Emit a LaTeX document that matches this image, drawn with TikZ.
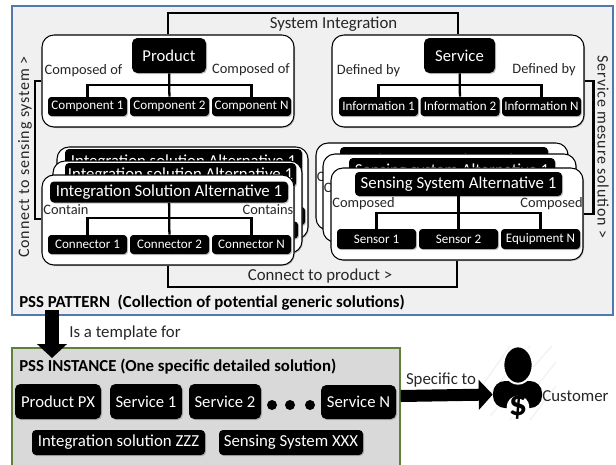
\documentclass[tikz,border=0pt]{standalone}
\usepackage{fontspec}
\setmainfont{Carlito}
\newfontfamily\widefont[LetterSpace=5]{Carlito}
\usetikzlibrary{arrows.meta}
\usetikzlibrary{shadows}
\usetikzlibrary{shapes.geometric}
\usetikzlibrary{positioning}

\begin{document}
\begin{tikzpicture}
    [
    x=0.75pt,y=-0.75pt,
    box/.style 2 args={minimum width=#1*0.75pt,minimum height=#2*0.75pt,inner sep=0pt},
    softshadow/.style={drop shadow={opacity=0.45,shadow xshift=0.8pt,shadow yshift=-0.8pt}},
    card/.style={draw=black,fill=white,line width=0.8pt,rounded corners=9pt,softshadow},
    head/.style={fill=black,text=white,rounded corners=4pt,softshadow,font=\fontsize{12.5}{15}\selectfont},
    part/.style={fill=black,text=white,rounded corners=2.5pt,softshadow,font=\fontsize{9.8}{12}\selectfont},
    wide/.style={fill=black,text=white,rounded corners=3pt,softshadow,font=\fontsize{12.6}{15}\selectfont},
    tag/.style={inner sep=0pt,text=black!85,font=\fontsize{10.8}{12}\selectfont},
    note/.style={inner sep=0pt,text=black!85,font=\fontsize{12.6}{14}\selectfont},
    side/.style={inner sep=0pt,text=black!85,font=\widefont\fontsize{12}{14}\selectfont},
    bold/.style={inner sep=0pt,text=black,font=\bfseries\fontsize{12.6}{14}\selectfont},
    link/.style={line width=1.7pt},
    fat/.style={line width=#1,-{Triangle[length=10.5pt,width=22pt]}}
    ]
    \useasboundingbox (0,0) rectangle (616,464);
    \clip (0,0) rectangle (616,464);

    % outer frames
    \node (pattern) at (312.5,160.5) [box={601}{309},draw={rgb,255:red,79;green,123;blue,172},line width=1pt,fill=black!6] {};
    \node (instance) at (206,410) [box={388}{124},draw={rgb,255:red,95;green,127;blue,58},line width=1pt,fill=black!15] {};

    % product
    \node (productcard) at (168,81) [box={252}{92},card] {};
    \node (product) at (169,55.5) [box={74}{35},head] {Product};
    \node (comp1) at (87.5,106.5) [box={79}{19},part] {Component 1};
    \node (comp2) at (169.5,106.5) [box={79}{19},part] {Component 2};
    \node (comp3) at (251.5,106.5) [box={79}{19},part] {Component N};
    \coordinate (busp) at (169.5,85);
    \draw [link] (product) to (comp2);
    \draw [link] (comp1) |- (busp) -| (comp3);
    \node (compof1) at (83.5,71) [tag] {Composed of};
    \node (compof2) at (251,70) [tag] {Composed of};

    % service
    \node (servicecard) at (458,81) [box={252}{92},card] {};
    \node (service) at (459.5,55.5) [box={71}{35},head] {Service};
    \node (info1) at (378.5,106.5) [box={79}{19},part] {Information 1};
    \node (info2) at (460,106.5) [box={79}{19},part] {Information 2};
    \node (info3) at (541.5,106.5) [box={79}{19},part] {Information N};
    \coordinate (buss) at (460,85);
    \draw [link] (service) to (info2);
    \draw [link] (info1) |- (buss) -| (info3);
    \node (defby1) at (368.5,71) [tag] {Defined by};
    \node (defby2) at (544,70) [tag] {Defined by};

    % integration stack
    \node (intcardc) at (182.5,193) [box={251}{92},card] {};
    \node (intheadc) at (183.5,162) [box={237}{26},wide] {Integration solution Alternative 1};
    \node (intbitc) at (280,216) [box={50}{18},part] {};
    \node (intcardb) at (177.5,207) [box={249}{92},card] {};
    \node (intheadb) at (180.5,175) [box={231}{24},wide] {Integration solution Alternative 1};
    \node (intbitb) at (273,230) [box={50}{17},part] {};
    \node (intcard) at (168,220) [box={252}{90},card] {};
    \node (inthead) at (169,192) [box={238}{21},wide] {Integration Solution Alternative 1};
    \node (conn1) at (87.5,244.5) [box={79}{19},part] {Connector 1};
    \node (conn2) at (169.5,244.5) [box={79}{19},part] {Connector 2};
    \node (conn3) at (251.5,244.5) [box={79}{19},part] {Connector N};
    \coordinate (busi) at (169.5,218);
    \draw [link] (inthead) to (conn2);
    \draw [link] (conn1) |- (busi) -| (conn3);
    \node (contain1) at (66,210) [tag] {Contain};
    \node (contain2) at (268,210) [tag] {Contains};

    % sensing stack
    \node (sencardc) at (442,186.5) [box={252}{87},card] {};
    \node (senheadc) at (444,161) [box={208}{28},wide] {Sensing system Alternative 1};
    \node (composedc) at (348,178) [tag] {Composed};
    \node (sencardb) at (449.5,198) [box={253}{88},card] {};
    \node (senheadb) at (452,171) [box={206}{26},wide] {Sensing system Alternative 1};
    \node (composedb) at (355,189) [tag] {Composed};
    \node (sencard) at (457,214) [box={252}{92},card] {};
    \node (senhead) at (458.5,184) [box={207}{24},wide] {Sensing System Alternative 1};
    \node (sensor1) at (376.5,239) [box={79}{20},part] {Sensor 1};
    \node (sensor2) at (458.5,239) [box={79}{20},part] {Sensor 2};
    \node (equip) at (540.5,239) [box={79}{20},part] {Equipment N};
    \coordinate (busn) at (458.5,213);
    \draw [link] (senhead) to (sensor2);
    \draw [link] (sensor1) |- (busn) -| (equip);
    \node (composed1) at (363.5,204) [tag] {Composed};
    \node (composed2) at (551.5,204) [tag] {Composed};

    % connections between the cards
    \coordinate (sysleft) at (168,13);
    \coordinate (connleft) at (35,81);
    \coordinate (connright) at (593.5,81);
    \coordinate (prodlow) at (168,287);
    \draw [link] (productcard.north) to (sysleft) -| (servicecard.north);
    \draw [link] (productcard.west |- connleft) -| (35,219) -- (intcard.west |- 0,219);
    \draw [link] (servicecard.east |- connright) -| (593.5,214) -- (sencard.east |- 0,214);
    \draw [link] (intcard.south -| prodlow) to (prodlow) -| (sencard.south);

    \node (sysint) at (333.5,24) [note] {System Integration};
    \node (connprod) at (320,276) [note] {Connect to product >};
    \node (connsens) at (25,157) [side,rotate=90] {Connect to sensing system >};
    \node (svcsol) at (603,147) [side,rotate=-90] {Service mesure solution >};
    \node (patterntitle) at (19,303) [bold,anchor=west] {PSS PATTERN\ \ (Collection of potential generic solutions)};

    % instance
    \node (template) at (125,333) [note] {Is a template for};
    \coordinate (patfoot) at (52,310);
    \coordinate (instop) at (52,358);
    \draw [fat=11pt] (patfoot) to (instop);
    \node (instancetitle) at (19,367) [bold,anchor=west] {PSS INSTANCE (One specific detailed solution)};
    \node (px) at (58,401.5) [box={86}{35},head] {Product PX};
    \node (s1) at (146,401.5) [box={72}{35},head] {Service 1};
    \node (s2) at (225,401.5) [box={72}{35},head] {Service 2};
    \node (sn) at (358.5,402) [box={75}{34},head] {Service N};
    \foreach \nm/\xx in {d1/272,d2/290,d3/310}
      \node (\nm) at (\xx,405) [circle,fill=black,minimum size=7.5pt,inner sep=0pt] {};
    \node (intzzz) at (118.5,442.5) [box={173}{25},wide] {Integration solution ZZZ};
    \node (senxxx) at (291,442.5) [box={144}{25},wide] {Sensing System XXX};

    % customer
    \foreach \xa/\ya/\xb/\yb in {482/386/510/346,482/404/530/346,490/416/552/346,510/420/556/362,530/420/556/386}
      \draw [black!5,line width=1pt] (\xa,\ya) to (\xb,\yb);
    \node (body) at (517.5,394.5) [box={49}{27},fill=black,rounded corners=9pt] {};
    \node (cuthead) at (518,365) [ellipse,fill=black,draw=white,line width=1.5pt,minimum width=22pt,minimum height=28pt,inner sep=0pt] {};
    \node (cutdollar) at (518,407) [circle,fill=white,minimum size=17pt,inner sep=0pt] {};
    \node (dollar) at (518,406) [inner sep=0pt,font=\bfseries\fontsize{27}{27}\selectfont] {\$};
    \draw [fat=9pt] (instance.east |- 0,396) to (body.west);
    \node (specific) at (441,380) [note] {Specific to};
    \node (customer) at (575.5,396) [note] {Customer};
  \end{tikzpicture}
\end{document}
